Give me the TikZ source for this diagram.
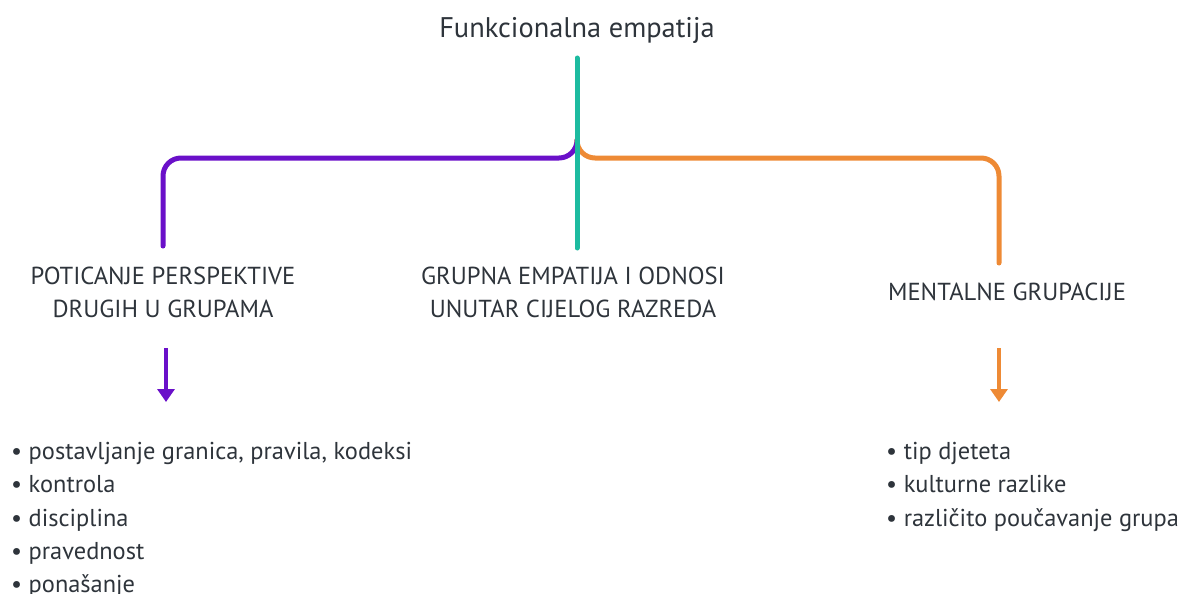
\documentclass[tikz,border=0pt]{standalone}
\usepackage{fontspec}
\setmainfont{PT Sans}
\usetikzlibrary{arrows.meta}
\definecolor{txt}{HTML}{2E343B}
\definecolor{pur}{HTML}{6A10C9}
\definecolor{teal}{HTML}{1DBBA0}
\definecolor{ora}{HTML}{EE8A35}
\tikzset{
  lbl/.style={text=txt, font=\fontsize{24.6}{33}\selectfont, align=center, inner sep=0pt},
  lst/.style={text=txt, font=\fontsize{24.4}{33.3}\selectfont, align=left, anchor=north west, inner sep=0pt},
  br/.style={line width=5pt, line cap=round},
  arr/.style={line width=4pt, -{Triangle[width=17pt,length=13pt]}}
}
\begin{document}
\begin{tikzpicture}[x=1pt,y=1pt]
\useasboundingbox (0,0) rectangle (1181,-594);
\node[lbl, font=\fontsize{28.4}{30}\selectfont] (title) at (577,-30) {Funkcionalna empatija};
\node[lbl] (left) at (163,-292) {POTICANJE PERSPEKTIVE\\DRUGIH U GRUPAMA};
\node[lbl] (mid) at (573,-292) {GRUPNA EMPATIJA I ODNOSI\\UNUTAR CIJELOG RAZREDA};
\node[lbl] (right) at (1007,-292) {MENTALNE GRUPACIJE};
\coordinate (top) at (577,-58);
\coordinate (fork) at (577,-140);
\coordinate (midend) at (577,-248);
\coordinate (lend) at (163,-246);
\coordinate (rend) at (999,-263);
\coordinate (la1) at (166,-348);
\coordinate (la2) at (166,-402);
\coordinate (ra1) at (999,-348);
\coordinate (ra2) at (999,-402);
\draw[br, pur, rounded corners=18pt] (fork) |- (lend |- 0,-158) -- (lend);
\draw[br, ora, rounded corners=18pt] (fork) |- (rend |- 0,-158) -- (rend);
\draw[br, teal] (top) -- (midend);
\draw[arr, pur] (la1) -- (la2);
\draw[arr, ora] (ra1) -- (ra2);
\node[lst] (llist) at (11,-442) {\textbullet\ postavljanje granica, pravila, kodeksi\\\textbullet\ kontrola\\\textbullet\ disciplina\\\textbullet\ pravednost\\\textbullet\ ponašanje};
\node[lst] (rlist) at (886,-442) {\textbullet\ tip djeteta\\\textbullet\ kulturne razlike\\\textbullet\ različito poučavanje grupa};
\end{tikzpicture}
\end{document}
